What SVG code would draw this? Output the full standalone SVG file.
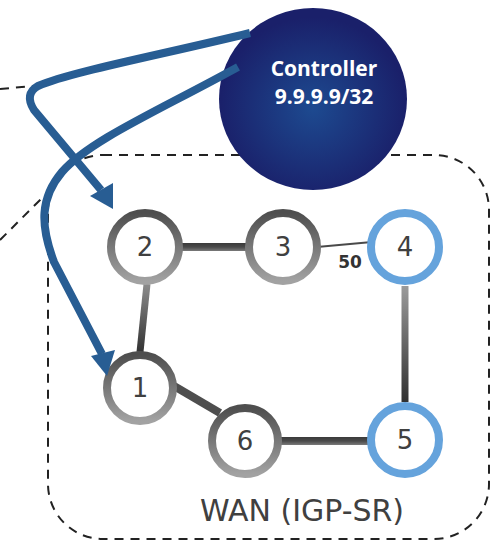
<svg xmlns="http://www.w3.org/2000/svg" width="491" height="541" viewBox="0 0 491 541">
<defs>
<radialGradient id="ctrlGrad" cx="0.5" cy="0.55" r="0.5">
<stop offset="0" stop-color="#1d4a90"/>
<stop offset="1" stop-color="#1a206a"/>
</radialGradient>
<linearGradient id="ringGray" x1="0" y1="0" x2="0" y2="1">
<stop offset="0" stop-color="#4e4e4e"/>
<stop offset="1" stop-color="#a2a2a2"/>
</linearGradient>
<linearGradient id="l21" gradientUnits="userSpaceOnUse" x1="0" y1="285" x2="0" y2="352">
<stop offset="0" stop-color="#8a8a8a"/>
<stop offset="1" stop-color="#333"/>
</linearGradient>
<linearGradient id="l45" gradientUnits="userSpaceOnUse" x1="0" y1="287" x2="0" y2="402">
<stop offset="0" stop-color="#9a9a9a"/>
<stop offset="1" stop-color="#303030"/>
</linearGradient>
<linearGradient id="lh23" gradientUnits="userSpaceOnUse" x1="0" y1="243" x2="0" y2="251">
<stop offset="0" stop-color="#3a3a3a"/>
<stop offset="0.5" stop-color="#4a4a4a"/>
<stop offset="1" stop-color="#7a7a7a"/>
</linearGradient>
<linearGradient id="lh65" gradientUnits="userSpaceOnUse" x1="0" y1="437" x2="0" y2="445">
<stop offset="0" stop-color="#3a3a3a"/>
<stop offset="0.5" stop-color="#4a4a4a"/>
<stop offset="1" stop-color="#7a7a7a"/>
</linearGradient>
</defs>
<style>
.ringG{fill:#fff;stroke:url(#ringGray);stroke-width:8}
.ringB{fill:#fff;stroke:#65a3dc;stroke-width:8}
.num{font-family:"DejaVu Sans",Verdana,sans-serif;font-size:26px;fill:#404040;text-anchor:middle}
.blue{fill:none;stroke:#285d93;stroke-width:8;stroke-linecap:butt;stroke-linejoin:round}
.head{fill:#285d93}
.dash{fill:none;stroke:#222;stroke-width:2;stroke-dasharray:9,7}
.ctext{font-family:"Open Sans","DejaVu Sans",sans-serif;font-size:21px;font-weight:bold;fill:#fff;text-anchor:middle}
</style>

<g id="wan-box">
<rect class="dash" x="48" y="155" width="441" height="384" rx="55" ry="55"/>
<text x="302" y="521" font-family="DejaVu Sans, Verdana, sans-serif" font-size="30" fill="#404040" text-anchor="middle">WAN (IGP-SR)</text>
</g>

<g id="outside-dashes">
<line class="dash" x1="0" y1="89" x2="34" y2="86" stroke="#10251a"/>
<line class="dash" x1="0" y1="240" x2="44" y2="196" stroke="#10251a"/>
</g>

<g id="links">
<line x1="180" y1="247" x2="248" y2="247" stroke="url(#lh23)" stroke-width="8"/>
<line x1="317" y1="247" x2="372" y2="242" stroke="#4a4a4a" stroke-width="2"/>
<line x1="147" y1="284" x2="140" y2="352" stroke="url(#l21)" stroke-width="7"/>
<line x1="405" y1="286" x2="405" y2="402" stroke="url(#l45)" stroke-width="7"/>
<line x1="174" y1="386" x2="220" y2="413" stroke="#4e4e4e" stroke-width="8"/>
<line x1="280" y1="441" x2="370" y2="441" stroke="url(#lh65)" stroke-width="8"/>
<text x="350" y="268" font-family="DejaVu Sans, Verdana, sans-serif" font-size="17" font-weight="bold" fill="#333" text-anchor="middle">50</text>
</g>

<g id="node2"><circle class="ringG" cx="145" cy="247" r="34"/><text class="num" x="145" y="256">2</text></g>
<g id="node3"><circle class="ringG" cx="283" cy="247" r="34"/><text class="num" x="283" y="256">3</text></g>
<g id="node4"><circle class="ringB" cx="405" cy="247" r="34"/><text class="num" x="405" y="256">4</text></g>
<g id="node1"><circle class="ringG" cx="140" cy="388" r="33"/><text class="num" x="140" y="397">1</text></g>
<g id="node6"><circle class="ringG" cx="245" cy="441" r="33"/><text class="num" x="245" y="450">6</text></g>
<g id="node5"><circle class="ringB" cx="405" cy="440" r="34"/><text class="num" x="405" y="449">5</text></g>

<g id="controller">
<ellipse cx="313" cy="99" rx="94" ry="91" fill="url(#ctrlGrad)"/>
<text class="ctext" x="324" y="76">Controller</text>
<text class="ctext" x="324" y="104">9.9.9.9/32</text>
</g>

<g id="connectors">
<path class="blue" d="M250,33 C160,55 70,72 38,86 Q24,94 34,110 L101,190"/>
<polygon class="head" points="90,196 113,183 113,209"/>
<path class="blue" d="M238,67 C160,110 90,140 62,172 C40,198 40,225 54,262 L102,354"/>
<polygon class="head" points="91,356 115,350 107,376"/>
</g>
</svg>
